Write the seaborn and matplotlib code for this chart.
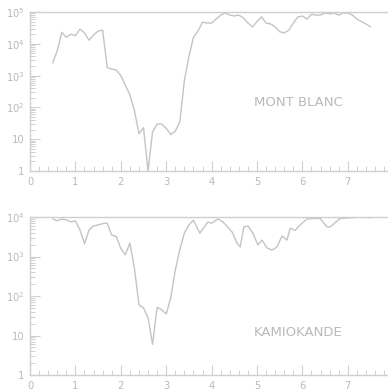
import numpy as np
import pandas as pd
import matplotlib
matplotlib.use("Agg")
import matplotlib.pyplot as plt
import matplotlib.ticker as mticker
import seaborn as sns

# Mont Blanc rate vs. energy
mb_x = [0.5, 0.6, 0.7, 0.8, 0.9, 1.0, 1.1, 1.2, 1.3, 1.4, 1.5, 1.6, 1.7, 1.8, 1.9,
        2.0, 2.1, 2.2, 2.3, 2.4, 2.5, 2.6, 2.7, 2.8, 2.9, 3.0, 3.1, 3.2, 3.3, 3.4,
        3.5, 3.6, 3.7, 3.8, 3.9, 4.0, 4.1, 4.2, 4.3, 4.4, 4.5, 4.6, 4.7, 4.8, 4.9,
        5.0, 5.1, 5.2, 5.3, 5.4, 5.5, 5.6, 5.7, 5.8, 5.9, 6.0, 6.1, 6.2, 6.3, 6.4,
        6.5, 6.6, 6.7, 6.8, 6.9, 7.0, 7.1, 7.2, 7.3, 7.4, 7.5]
mb_y = [2500, 6000, 23000, 16000, 20000, 18000, 29000, 22000, 13000, 19000, 25000,
        27000, 1800, 1600, 1500, 1000, 500, 250, 80, 15, 23, 1, 17, 30, 30, 22, 14,
        18, 35, 700, 4000, 16000, 25000, 48000, 45000, 45000, 60000, 80000, 93000,
        80000, 75000, 80000, 65000, 45000, 34000, 50000, 70000, 45000, 42000, 34000,
        24000, 22000, 27000, 45000, 70000, 75000, 60000, 85000, 80000, 80000, 93000,
        87000, 93000, 80000, 93000, 93000, 80000, 60000, 50000, 42000, 34000]

# Kamiokande rate vs. energy
ka_x = [0.5, 0.6, 0.7, 0.8, 0.9, 1.0, 1.1, 1.2, 1.3, 1.4, 1.5, 1.6, 1.7, 1.8, 1.9,
        2.0, 2.1, 2.2, 2.3, 2.4, 2.5, 2.6, 2.7, 2.8, 2.9, 3.0, 3.1, 3.2, 3.3, 3.4,
        3.5, 3.6, 3.74, 3.92, 4.0, 4.14, 4.25, 4.45, 4.56, 4.63, 4.71, 4.8, 4.91,
        5.02, 5.11, 5.22, 5.33, 5.44, 5.55, 5.66, 5.73, 5.84, 5.95, 6.1, 6.28, 6.39,
        6.54, 6.61, 6.83, 7.33, 7.49]
ka_y = [8900, 8000, 8900, 8500, 7500, 8000, 4700, 2100, 4700, 5900, 6300, 6800,
        7000, 3500, 3200, 1600, 1100, 2200, 500, 60, 50, 28, 6, 52, 45, 35, 90, 450,
        1500, 3900, 6300, 8300, 3900, 7500, 7000, 8900, 7500, 4200, 2200, 1750,
        5600, 5900, 3900, 1950, 2600, 1650, 1450, 1750, 3300, 2600, 5200, 4600,
        6300, 8900, 9200, 9200, 5600, 5600, 9200, 10000, 9500]

labels = ["MONT BLANC", "KAMIOKANDE"]
ytop = [5, 4]

sns.set_theme(style="white")
plt.rcParams["font.family"] = ["DejaVu Sans"]

gray_line = "#c4c4c4"
gray_axis = "#cfcfcf"
gray_text = "#bababa"

fig = plt.figure(figsize=(3.88, 3.90), dpi=100)
ax1 = fig.add_axes([30 / 388, 1 - 171 / 390, 1 - 30 / 388, (171 - 12) / 390])
ax2 = fig.add_axes([30 / 388, 1 - 375 / 390, 1 - 30 / 388, (375 - 217) / 390])

frames = [pd.DataFrame({"E": mb_x, "N": mb_y}), pd.DataFrame({"E": ka_x, "N": ka_y})]
label_y = [10 ** 2.15, 10 ** 1.07]

for ax, df, lab, top, ly in zip([ax1, ax2], frames, labels, ytop, label_y):
    sns.lineplot(data=df, x="E", y="N", ax=ax, color=gray_line, linewidth=1.0)
    ax.set_yscale("log")
    ax.set_ylim(1, 10 ** top)
    ax.set_xlim(0, 7.885)
    ax.set_xlabel("")
    ax.set_ylabel("")

    ax.xaxis.set_major_locator(mticker.MultipleLocator(1))
    ax.xaxis.set_minor_locator(mticker.MultipleLocator(0.2))
    ax.yaxis.set_major_locator(mticker.FixedLocator([10 ** k for k in range(top + 1)]))
    ax.yaxis.set_minor_locator(mticker.LogLocator(base=10, subs=np.arange(2, 10), numticks=20))
    ax.yaxis.set_minor_formatter(mticker.NullFormatter())
    ylabels = ["1", "10"] + [rf"$\mathregular{{10^{{{k}}}}}$" for k in range(2, top + 1)]
    ax.yaxis.set_major_formatter(mticker.FixedFormatter(ylabels))

    ax.tick_params(axis="both", which="major", direction="in", length=7, width=0.8,
                   color=gray_axis, labelcolor=gray_text, labelsize=7.2, pad=4)
    ax.tick_params(axis="both", which="minor", direction="in", length=3.5, width=0.7,
                   color=gray_axis)
    ax.tick_params(axis="y", which="both", left=True, right=False)
    ax.tick_params(axis="x", which="both", bottom=True, top=False)

    for side in ["left", "bottom", "top"]:
        ax.spines[side].set_visible(True)
        ax.spines[side].set_color(gray_axis)
        ax.spines[side].set_linewidth(1.0)
    ax.spines["right"].set_visible(False)

    ax.text(5.9, ly, lab, color=gray_text, fontsize=9.5, ha="center", va="center")

fig.savefig("out.png", dpi=100, facecolor="white")
